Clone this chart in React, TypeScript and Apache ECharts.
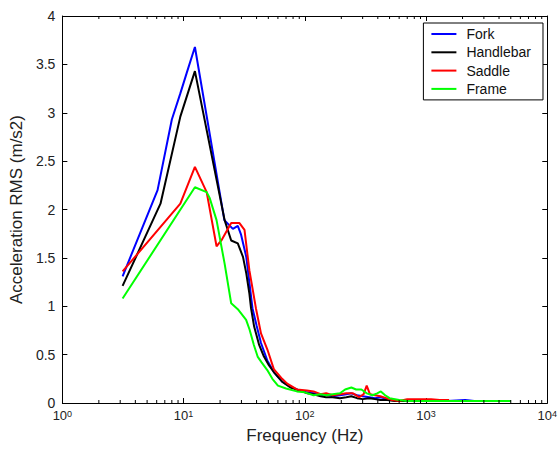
import React, { useEffect, useRef } from "react";
import * as echarts from "echarts";

const seriesNames = ["Fork", "Handlebar", "Saddle", "Frame"];
const seriesColors = ["#0000ff", "#000000", "#ff0000", "#00ff00"];

const fork: [number, number][] = [
  [3.14, 1.31], [6.1, 2.2], [8.0, 2.93], [9.4, 3.2], [10.6, 3.41], [12.4, 3.68],
  [21.7, 1.89], [25.5, 1.8], [28, 1.83], [29.8, 1.74], [32.9, 1.51], [37, 0.98],
  [40, 0.8], [43.5, 0.62], [49, 0.44], [55.5, 0.32], [65, 0.22], [76, 0.17],
  [90, 0.13], [105, 0.11], [118, 0.1], [135, 0.08], [150, 0.09], [170, 0.07],
  [195, 0.08], [220, 0.09], [242, 0.1], [270, 0.08], [300, 0.07], [340, 0.06],
  [380, 0.05], [420, 0.06], [480, 0.04], [550, 0.03], [620, 0.02], [800, 0.02],
  [1000, 0.02], [1500, 0.02], [2100, 0.03], [2500, 0.02], [5000, 0.02],
];

const handlebar: [number, number][] = [
  [3.14, 1.21], [6.45, 2.06], [9.4, 2.96], [12.4, 3.43], [21.8, 1.89], [24.7, 1.68],
  [28, 1.65], [30.9, 1.51], [32.9, 1.34], [34.9, 1.13], [36, 0.98], [38.2, 0.79],
  [42, 0.6], [46, 0.48], [50, 0.4], [55.5, 0.32], [65, 0.22], [76, 0.16],
  [90, 0.13], [105, 0.1], [118, 0.09], [135, 0.07], [150, 0.06], [170, 0.06],
  [195, 0.05], [220, 0.06], [242, 0.07], [270, 0.05], [300, 0.04], [340, 0.05],
  [380, 0.04], [420, 0.03], [480, 0.03], [550, 0.02], [700, 0.02], [1000, 0.02],
  [1500, 0.02], [5000, 0.02],
];

const saddle: [number, number][] = [
  [3.14, 1.36], [9.4, 2.06], [12.4, 2.44], [15.5, 2.18], [18.7, 1.62], [20.5, 1.68],
  [24.7, 1.86], [28.9, 1.86], [31.8, 1.79], [34.9, 1.37], [39.5, 0.98], [43.5, 0.72],
  [49.2, 0.55], [55.5, 0.35], [65, 0.25], [71.6, 0.2], [86, 0.14], [104, 0.13],
  [118, 0.12], [135, 0.09], [150, 0.1], [170, 0.08], [195, 0.09], [220, 0.1],
  [250, 0.1], [280, 0.06], [305, 0.09], [324, 0.18], [345, 0.09], [380, 0.08],
  [420, 0.07], [470, 0.05], [520, 0.03], [600, 0.02], [700, 0.04], [900, 0.04],
  [1100, 0.04], [1300, 0.03], [1550, 0.03],
];

const frame: [number, number][] = [
  [3.14, 1.08], [12.4, 2.23], [15.5, 2.18], [16.4, 2.12], [18.7, 1.89], [21.8, 1.44],
  [24.7, 1.03], [28, 0.97], [32.8, 0.86], [35, 0.76], [38, 0.6], [40.8, 0.48],
  [44, 0.42], [49, 0.34], [54, 0.25], [60, 0.18], [70, 0.15], [86, 0.12],
  [100, 0.11], [118, 0.08], [135, 0.09], [150, 0.08], [170, 0.09], [195, 0.1],
  [215, 0.14], [242, 0.16], [265, 0.14], [293, 0.14], [325, 0.1], [362, 0.08],
  [395, 0.1], [424, 0.12], [460, 0.08], [500, 0.05], [600, 0.03], [700, 0.02],
  [1000, 0.02], [2000, 0.02], [5000, 0.02],
];

const seriesData = [fork, handlebar, saddle, frame];

const minorTickFreqs: number[] = [
  2, 3, 4, 5, 6, 7, 8, 9,
  20, 30, 40, 50, 60, 70, 80, 90,
  200, 300, 400, 500, 600, 700, 800, 900,
  2000, 3000, 4000, 5000, 6000, 7000, 8000, 9000,
];

const yTicks = { min: 0, max: 4, interval: 0.5 };
const xRange = { min: 1, max: 10000 };

const FONT = "Liberation Sans, Arial, sans-serif";

export default function App() {
  const ref = useRef<HTMLDivElement>(null);

  useEffect(() => {
    document.body.style.margin = "0";
    if (!ref.current) return;
    const chart = echarts.init(ref.current, undefined, { renderer: "svg" });

    const lineSeries = seriesNames.map((name, i) => ({
      name,
      type: "line",
      data: seriesData[i],
      xAxisIndex: 0,
      yAxisIndex: 0,
      symbol: "none",
      lineStyle: { color: seriesColors[i], width: 2 },
      itemStyle: { color: seriesColors[i] },
      z: 2 + i,
    }));

    const option: any = {
      animation: false,
      backgroundColor: "#ffffff",
      textStyle: { fontFamily: FONT },
      grid: { left: 59, right: 10, top: 16, bottom: 49, containLabel: false },
      legend: {
        data: seriesNames,
        orient: "vertical",
        right: 17,
        top: 23,
        itemWidth: 25,
        itemHeight: 14,
        itemGap: 4.3,
        padding: [4, 12, 4, 7],
        borderColor: "#000",
        borderWidth: 1,
        backgroundColor: "#fff",
        itemStyle: { opacity: 0, borderWidth: 0 },
        lineStyle: { width: 2 },
        textStyle: { fontFamily: FONT, fontSize: 14, color: "#111", padding: [0, 0, 0, 5] },
        selectedMode: false,
      },
      xAxis: [
        {
          type: "log",
          logBase: 10,
          min: xRange.min,
          max: xRange.max,
          splitNumber: 4,
          name: "Frequency (Hz)",
          nameLocation: "middle",
          nameGap: 22,
          nameTextStyle: { fontFamily: FONT, fontSize: 17, color: "#222" },
          axisLine: { show: true, onZero: false, lineStyle: { color: "#000", width: 1 } },
          axisTick: { show: true, inside: true, length: 5, lineStyle: { color: "#000" } },
          splitLine: { show: false },
          axisLabel: {
            margin: 6,
            color: "#222",
            fontFamily: FONT,
            formatter: (v: number) => "{b|10}{s|" + Math.round(Math.log10(v)) + "}",
            rich: {
              b: { fontSize: 13, fontFamily: FONT, color: "#222", lineHeight: 13, verticalAlign: "bottom" },
              s: { fontSize: 9, fontFamily: FONT, color: "#222", lineHeight: 6, verticalAlign: "top" },
            },
          },
        },
        {
          type: "log",
          logBase: 10,
          min: xRange.min,
          max: xRange.max,
          splitNumber: 4,
          position: "top",
          axisLine: { show: true, onZero: false, lineStyle: { color: "#000", width: 1 } },
          axisTick: { show: true, inside: true, length: 5, lineStyle: { color: "#000" } },
          axisLabel: { show: false },
          splitLine: { show: false },
        },
      ],
      yAxis: [
        {
          type: "value",
          min: yTicks.min,
          max: yTicks.max,
          interval: yTicks.interval,
          name: "Acceleration RMS (m/s2)",
          nameLocation: "middle",
          nameGap: 32,
          nameTextStyle: { fontFamily: FONT, fontSize: 17, color: "#222" },
          axisLine: { show: true, onZero: false, lineStyle: { color: "#000", width: 1 } },
          axisTick: { show: true, inside: true, length: 5, lineStyle: { color: "#000" } },
          splitLine: { show: false },
          axisLabel: { margin: 7, fontSize: 14, lineHeight: 8, color: "#222", fontFamily: FONT },
        },
        {
          type: "value",
          min: yTicks.min,
          max: yTicks.max,
          interval: yTicks.interval,
          position: "right",
          axisLine: { show: true, onZero: false, lineStyle: { color: "#000", width: 1 } },
          axisTick: { show: true, inside: true, length: 5, lineStyle: { color: "#000" } },
          axisLabel: { show: false },
          splitLine: { show: false },
        },
      ],
      series: [
        ...lineSeries,
        {
          type: "custom",
          name: "minorTicks",
          xAxisIndex: 0,
          yAxisIndex: 0,
          silent: true,
          clip: false,
          z: 10,
          data: minorTickFreqs.map((f) => [f, 0]),
          encode: { x: 0, y: 1 },
          renderItem: (_params: any, api: any) => {
            const f = api.value(0);
            const b = api.coord([f, yTicks.min]);
            const t = api.coord([f, yTicks.max]);
            return {
              type: "group",
              children: [
                { type: "line", shape: { x1: b[0], y1: b[1], x2: b[0], y2: b[1] - 3 }, style: { stroke: "#000", lineWidth: 1 } },
                { type: "line", shape: { x1: t[0], y1: t[1], x2: t[0], y2: t[1] + 3 }, style: { stroke: "#000", lineWidth: 1 } },
              ],
            };
          },
        },
      ],
    };

    chart.setOption(option);
    return () => chart.dispose();
  }, []);

  return <div ref={ref} style={{ width: 560, height: 452 }} />;
}
